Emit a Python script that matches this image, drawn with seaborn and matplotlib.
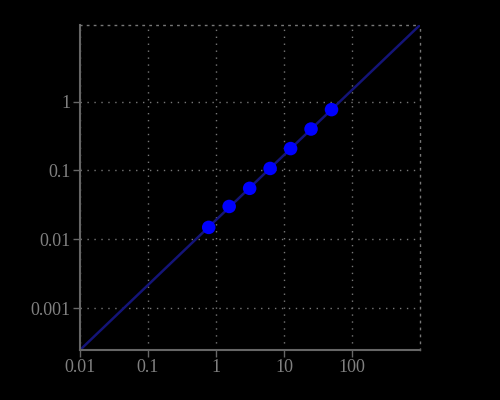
import numpy as np
import pandas as pd
import matplotlib
matplotlib.use('Agg')
import matplotlib.pyplot as plt
import seaborn as sns

# data
conc = [0.78125, 1.5625, 3.125, 6.25, 12.5, 25, 50]
signal = [0.0149, 0.030, 0.055, 0.107, 0.208, 0.40, 0.766]
x_ticks = [0.01, 0.1, 1, 10, 100]
x_tick_labels = ['0.01', '0.1', '1', '10', '100']
y_ticks = [0.001, 0.01, 0.1, 1]
y_tick_labels = ['0.001', '0.01', '0.1', '1']
x_range = [0.01, 1000]

sns.set_style('dark')
plt.rcParams['font.family'] = ['Liberation Serif', 'DejaVu Serif']

# power-law fit in log-log space
slope, icpt = np.polyfit(np.log10(conc), np.log10(signal), 1)
fit_x = np.array(x_range)
fit_y = 10 ** (icpt + slope * np.log10(fit_x))
fit = pd.DataFrame({'x': fit_x, 'y': fit_y})
pts = pd.DataFrame({'x': conc, 'y': signal})

fig = plt.figure(figsize=(5, 4), dpi=100, facecolor='black')
ax = fig.add_axes([0.16, 0.125, 0.68, 0.8125])
ax.set_facecolor('black')

sns.lineplot(data=fit, x='x', y='y', color='#141478', linewidth=1.8, ax=ax, zorder=2)
sns.scatterplot(data=pts, x='x', y='y', color='#0000ff', s=95, edgecolor='none', ax=ax, zorder=3)

ax.set_xscale('log')
ax.set_yscale('log')
ax.set_xlim(fit_x[0], fit_x[1])
ax.set_ylim(fit_y[0], fit_y[1])
ax.set_xticks(x_ticks)
ax.set_xticklabels(x_tick_labels)
ax.set_yticks(y_ticks)
ax.set_yticklabels(y_tick_labels)
ax.minorticks_off()
ax.set_xlabel('')
ax.set_ylabel('')

ax.grid(True, color='#777777', linestyle=(0, (1, 4)), linewidth=1)
for side in ['left', 'bottom']:
    ax.spines[side].set_visible(True)
    ax.spines[side].set_color('#666666')
    ax.spines[side].set_linewidth(1.5)
for side in ['top', 'right']:
    ax.spines[side].set_visible(True)
    ax.spines[side].set_color('#777777')
    ax.spines[side].set_linestyle((0, (1, 4)))
    ax.spines[side].set_linewidth(1)

ax.tick_params(axis='both', colors='#666666', labelcolor='#808080', labelsize=13,
               length=5, width=1, direction='out', bottom=True, left=True, pad=1.5)

fig.savefig('out.png', dpi=100, facecolor='black')
